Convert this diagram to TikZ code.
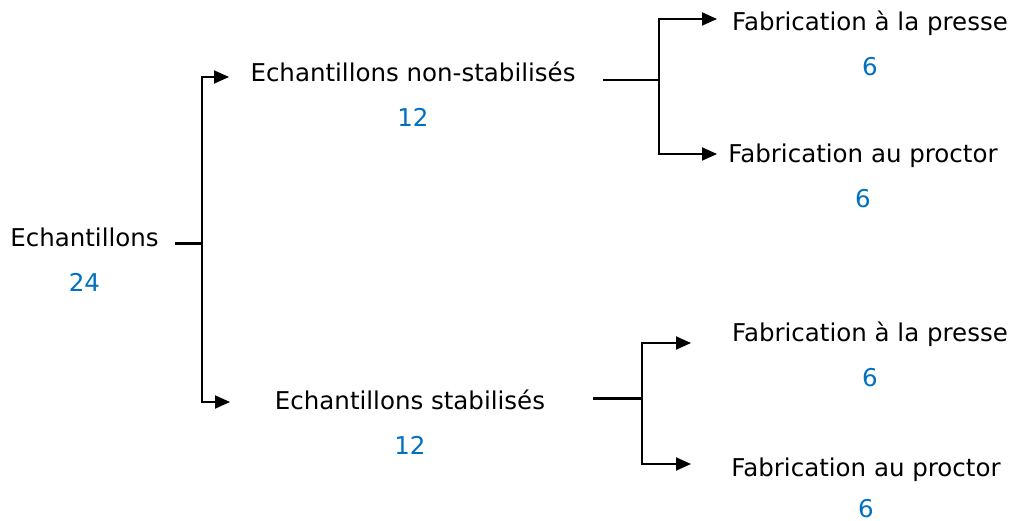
\documentclass[tikz,border=0pt]{standalone}
\usepackage{fontspec}
\setmainfont{DejaVu Sans}
\usetikzlibrary{arrows.meta}
\definecolor{numblue}{HTML}{0070C0}
\begin{document}
\begin{tikzpicture}[x=1pt,y=-1pt,
  lbl/.style={anchor=base,inner sep=0pt,font=\fontsize{24.5}{28}\selectfont},
  num/.style={lbl,text=numblue},
  conn/.style={line width=1.9pt},
  stub/.style={line width=3pt},
  arr/.style={conn,-{Triangle[length=15pt,width=13pt]}}]
\useasboundingbox (0,0) rectangle (1013,521);

% labels
\node[lbl] (root) at (84.5,247) {Echantillons};
\node[num] (rootn) at (84.5,292) {24};
\node[lbl] (ns) at (413,82) {Echantillons non-stabilisés};
\node[num] (nsn) at (413,127) {12};
\node[lbl] (st) at (410,410) {Echantillons stabilisés};
\node[num] (stn) at (410,455) {12};
\node[lbl] (p1) at (870,31) {Fabrication à la presse};
\node[num] (p1n) at (870,76) {6};
\node[lbl] (q1) at (863,163) {Fabrication au proctor};
\node[num] (q1n) at (863,208) {6};
\node[lbl] (p2) at (870,342) {Fabrication à la presse};
\node[num] (p2n) at (870,387) {6};
\node[lbl] (q2) at (866,477) {Fabrication au proctor};
\node[num] (q2n) at (866,517) {6};

% connector coordinates
\coordinate (s0) at (175,244);
\coordinate (j0) at (202,244);
\coordinate (tns) at (229,77);
\coordinate (tst) at (230,402);
\coordinate (s1) at (603,80);
\coordinate (j1) at (659,80);
\coordinate (tp1) at (717,19);
\coordinate (tq1) at (717,154);
\coordinate (s2) at (593,399);
\coordinate (j2) at (642,399);
\coordinate (tp2) at (691,343);
\coordinate (tq2) at (691,464);

% connectors
\draw[stub] (s0) -- (j0);
\draw[arr] (j0) |- (tns);
\draw[arr] (j0) |- (tst);
\draw[conn,line width=2.3pt] (s1) -- (j1);
\draw[arr] (j1) |- (tp1);
\draw[arr] (j1) |- (tq1);
\draw[stub] (s2) -- (j2);
\draw[arr] (j2) |- (tp2);
\draw[arr] (j2) |- (tq2);
\end{tikzpicture}
\end{document}
